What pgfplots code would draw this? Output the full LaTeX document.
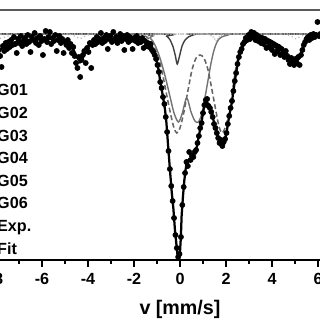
\documentclass[border=0pt]{standalone}
\usepackage{fontspec}
\setmainfont{Liberation Sans}
\usepackage{pgfplots}
\pgfplotsset{compat=1.18}
\begin{document}
\begin{tikzpicture}
\useasboundingbox (0,0) rectangle (8cm,8cm);
\clip (0,0) rectangle (8cm,8cm);
\begin{axis}[
  at={(-0.675cm,1.5cm)}, anchor=south west,
  scale only axis, width=10.35cm, height=6.25cm,
  xmin=-9, xmax=9, ymin=88.7, ymax=101.2,
  axis x line*=bottom, axis y line=none,
  x axis line style={line width=1.1pt, -},
  xtick={-8,-6,...,8}, minor x tick num=1,
  tick align=outside, major tick length=0.18cm, minor tick length=0.1cm,
  every tick/.style={black, line width=1pt},
  /pgf/number format/assume math mode=true,
  xticklabel style={font=\bfseries\fontsize{11.5}{12}\selectfont, yshift=-1pt},
  xlabel={v [mm/s]},
  xlabel style={font=\bfseries\fontsize{14}{16}\selectfont, yshift=-4pt},
  legend cell align=left,
  legend style={at={(axis description cs:-0.0185,0.703)}, anchor=north west,
    draw=none, fill=none, inner sep=0pt, outer sep=0pt,
    row sep=7.78pt, column sep=4pt,
    font=\bfseries\fontsize{11.5}{12}\selectfont,
    nodes={inner sep=0pt, text height=8.3pt, text depth=0pt}},
]
% G01
\addplot[black!55, line width=1pt, smooth, tension=0.5] coordinates {
(-9.00,100.00) (-1.74,100.00) (-1.30,99.80) (-1.09,99.45) (-0.87,98.80) (-0.65,97.90)
(-0.43,96.85) (-0.26,96.05) (-0.07,95.60) (0.09,96.00) (0.29,96.80) (0.48,96.10)
(0.65,95.65) (0.80,95.60) (0.96,96.05) (1.09,96.85) (1.22,97.70) (1.35,98.55)
(1.48,99.20) (1.61,99.60) (1.78,99.83) (2.09,99.95) (2.61,100.00) (9.00,100.00)};
% G02
\addplot[black!60, line width=1.1pt, dash pattern=on 3.5pt off 2pt, smooth, tension=0.5] coordinates {
(-9.00,100.00) (-1.74,100.00) (-1.52,99.90) (-1.30,99.70) (-1.09,99.25) (-0.91,98.70)
(-0.74,97.90) (-0.57,96.90) (-0.39,95.90) (-0.26,95.30) (-0.14,95.05) (0.00,95.30)
(0.17,96.10) (0.35,97.20) (0.52,98.20) (0.70,98.80) (0.87,98.95) (1.04,98.80)
(1.22,98.20) (1.39,97.20) (1.57,96.10) (1.70,95.35) (1.83,95.05) (1.96,95.30)
(2.09,95.85) (2.22,96.70) (2.35,97.70) (2.48,98.60) (2.61,99.20) (2.78,99.65)
(3.04,99.90) (3.48,100.00) (9.00,100.00)};
% G03
\addplot[black!75, line width=1pt, smooth, tension=0.5] coordinates {
(-9.00,100.00) (-0.87,100.00) (-0.58,99.89) (-0.43,99.70) (-0.30,99.35) (-0.20,98.90)
(-0.12,98.50) (-0.02,98.90) (0.09,99.40) (0.22,99.70) (0.36,99.85) (0.65,99.98)
(0.87,100.00) (9.00,100.00)};
% G04
\addplot[gray!60, line width=0.8pt, dotted] coordinates {
(-9.00,100.00) (-8.20,99.85) (-7.90,99.75) (-7.60,99.85) (-7.20,100.00) (-4.80,100.00)
(-4.50,99.85) (-4.35,99.75) (-4.20,99.85) (-3.90,100.00) (4.60,100.00) (4.90,99.85)
(5.05,99.75) (5.20,99.85) (5.50,100.00) (9.00,100.00)};
% G05
\addplot[gray!60, line width=0.8pt, densely dotted] coordinates {
(-9.00,100.00) (1.20,100.00) (1.45,99.85) (1.57,99.65) (1.70,99.85) (1.95,100.00) (9.00,100.00)};
% G06
\addplot[gray!50, line width=0.8pt, loosely dotted] coordinates {
(-9.00,100.00) (-1.60,100.00) (-1.30,99.80) (-1.00,100.00) (2.60,100.00) (2.90,99.85)
(3.20,100.00) (9.00,100.00)};
% Exp.
\addplot[only marks, mark=*, mark size=1.85pt, black] table {
v T
-8.00 99.35
-7.94 99.05
-7.88 99.20
-7.82 98.90
-7.76 98.35
-7.70 99.40
-7.64 99.15
-7.58 99.55
-7.52 99.25
-7.46 99.60
-7.40 99.35
-7.34 99.70
-7.28 99.45
-7.22 99.85
-7.16 99.50
-7.10 99.05
-7.04 99.75
-6.98 99.55
-6.92 99.90
-6.86 99.40
-6.80 99.65
-6.74 99.80
-6.68 99.50
-6.62 99.95
-6.56 99.60
-6.50 99.10
-6.44 99.85
-6.38 99.70
-6.32 100.05
-6.26 99.55
-6.20 99.80
-6.14 99.45
-6.08 99.90
-6.02 99.65
-5.96 98.95
-5.90 99.75
-5.84 100.15
-5.78 99.60
-5.72 99.85
-5.66 100.10
-5.60 99.50
-5.54 99.80
-5.48 99.65
-5.42 99.95
-5.36 99.15
-5.30 99.70
-5.24 99.90
-5.18 99.55
-5.12 99.75
-5.06 99.05
-5.00 99.60
-4.94 99.45
-4.88 99.70
-4.82 99.30
-4.76 99.50
-4.70 99.05
-4.64 99.35
-4.58 98.90
-4.52 98.55
-4.46 98.30
-4.40 98.85
-4.34 97.85
-4.28 98.70
-4.22 98.95
-4.16 99.15
-4.10 98.55
-4.04 99.30
-3.98 99.10
-3.92 99.55
-3.86 98.30
-3.80 99.45
-3.74 99.70
-3.68 99.50
-3.62 99.85
-3.56 99.60
-3.50 99.75
-3.44 100.05
-3.38 99.55
-3.32 99.80
-3.26 99.65
-3.20 99.95
-3.14 99.25
-3.08 99.75
-3.02 99.90
-2.96 99.60
-2.90 100.10
-2.84 99.70
-2.78 99.85
-2.72 99.55
-2.66 99.80
-2.60 100.00
-2.54 99.65
-2.48 99.90
-2.42 99.20
-2.36 99.75
-2.30 99.95
-2.24 99.60
-2.18 99.85
-2.12 99.70
-2.06 99.25
-2.00 99.80
-1.94 99.65
-1.88 99.90
-1.82 99.55
-1.76 99.75
-1.70 99.60
-1.64 99.80
-1.58 99.30
-1.52 99.65
-1.46 99.40
-1.40 99.55
-1.34 99.35
-1.28 99.50
-1.22 99.20
-1.16 99.10
-1.10 98.95
-1.04 98.75
-0.98 98.45
-0.92 98.10
-0.86 97.60
-0.80 97.30
-0.74 96.85
-0.68 96.50
-0.62 95.85
-0.56 95.10
-0.50 94.15
-0.44 93.25
-0.38 92.40
-0.32 91.65
-0.26 90.80
-0.20 89.95
-0.14 89.30
-0.08 88.85
-0.02 89.00
0.04 89.85
0.10 91.45
0.16 92.35
0.22 93.05
0.28 93.60
0.34 93.40
0.40 94.10
0.46 93.70
0.52 93.90
0.58 93.85
0.64 94.10
0.70 94.20
0.76 94.55
0.82 94.90
0.88 95.30
0.94 95.55
1.00 96.05
1.06 96.45
1.12 96.70
1.18 96.75
1.24 96.40
1.30 96.30
1.36 96.10
1.42 95.85
1.48 95.50
1.54 95.30
1.60 95.05
1.66 94.80
1.72 94.55
1.78 94.70
1.84 94.40
1.90 94.60
1.96 94.75
2.02 95.05
2.08 95.50
2.14 95.90
2.20 96.30
2.26 96.65
2.32 97.15
2.38 97.65
2.44 98.05
2.50 98.50
2.56 98.85
2.62 99.10
2.68 99.25
2.74 99.50
2.80 99.60
2.86 99.80
2.92 99.70
2.98 99.95
3.04 99.75
3.10 100.10
3.16 99.85
3.22 100.05
3.28 99.70
3.34 99.95
3.40 99.65
3.46 99.85
3.52 99.55
3.58 99.80
3.64 99.50
3.70 99.75
3.76 99.30
3.82 99.60
3.88 99.35
3.94 99.55
4.00 99.20
4.06 99.45
4.12 99.00
4.18 99.40
4.24 99.15
4.30 99.35
4.36 98.95
4.42 99.25
4.48 99.05
4.54 98.85
4.60 99.15
4.66 98.90
4.72 98.70
4.78 98.50
4.84 98.80
4.90 98.60
4.96 98.45
5.02 98.75
5.08 98.55
5.14 98.85
5.20 98.45
5.26 98.95
5.32 99.20
5.38 99.45
5.44 99.60
5.50 99.75
5.56 99.85
5.62 99.70
5.68 99.95
5.74 99.80
5.80 100.00
5.86 99.85
5.92 99.95
5.98 100.60
6.04 99.90
6.10 100.00
6.16 99.85
};
% Fit
\addplot[black, line width=1.6pt] coordinates {
(-9.00,99.90) (-8.48,99.70) (-8.17,99.40) (-7.91,99.20) (-7.65,99.30) (-7.39,99.50)
(-6.96,99.65) (-6.30,99.75) (-5.65,99.75) (-5.22,99.70) (-4.87,99.55) (-4.65,99.25)
(-4.48,98.85) (-4.35,98.60) (-4.22,98.85) (-4.04,99.30) (-3.83,99.60) (-3.48,99.70)
(-2.83,99.75) (-2.17,99.75) (-1.74,99.70) (-1.52,99.60) (-1.39,99.50) (-1.23,99.40)
(-1.13,99.10) (-1.01,98.65) (-0.93,98.20) (-0.87,97.70) (-0.80,97.25) (-0.73,96.80)
(-0.65,96.20) (-0.59,95.55) (-0.51,94.30) (-0.43,93.10) (-0.36,92.10) (-0.29,91.30)
(-0.22,90.20) (-0.14,89.30) (-0.10,88.85) (-0.04,88.90) (0.00,89.10) (0.04,89.90)
(0.07,90.90) (0.13,91.90) (0.19,92.70) (0.24,93.20) (0.29,93.55) (0.35,93.68)
(0.43,93.73) (0.52,93.80) (0.65,94.05) (0.74,94.40) (0.80,94.80) (0.87,95.20)
(0.94,95.60) (1.01,96.15) (1.09,96.50) (1.16,96.60) (1.24,96.50) (1.35,96.20)
(1.43,95.80) (1.52,95.40) (1.63,94.95) (1.74,94.55) (1.83,94.40) (1.91,94.50)
(2.03,95.10) (2.13,95.85) (2.25,96.55) (2.33,97.20) (2.39,97.70) (2.47,98.25)
(2.53,98.70) (2.61,99.05) (2.68,99.30) (2.78,99.55) (2.97,99.75) (3.26,99.85)
(3.48,99.85) (3.70,99.80) (3.91,99.70) (4.13,99.55) (4.35,99.40) (4.57,99.10)
(4.78,98.85) (4.96,98.70) (5.09,98.65) (5.22,98.85) (5.35,99.35) (5.52,99.70)
(5.74,99.85) (6.09,99.90) (6.52,99.95) (7.39,99.95) (9.00,99.95)};
\legend{G01,G02,G03,G04,G05,G06,Exp.,Fit}
\draw[black!65, line width=1.8pt] (rel axis cs:0,1) -- (rel axis cs:1,1);
\end{axis}
\end{tikzpicture}
\end{document}
